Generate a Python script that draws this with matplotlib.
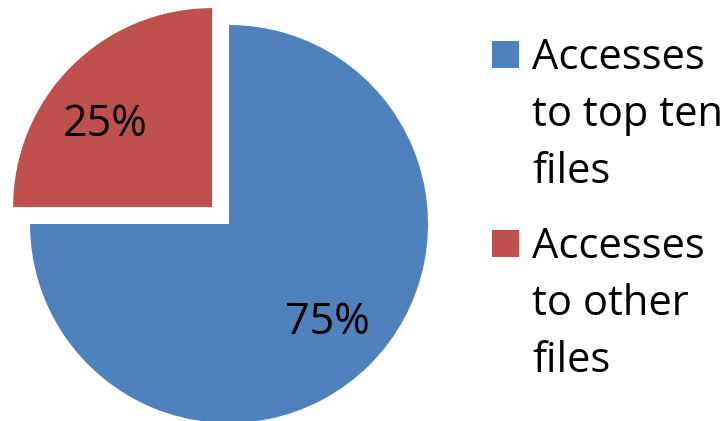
import numpy as np
import matplotlib.pyplot as plt
from matplotlib.patches import Rectangle

# DATA
labels = ['Accesses\nto top ten\nfiles', 'Accesses\nto other\nfiles']
shares = [75, 25]
colors = ['#4F81BD', '#C0504D']
explode = [0, 0.12]

FONT = 'Open Sans'
W, H = 724, 421

fig = plt.figure(figsize=(W / 100, H / 100), dpi=100)

# pie axes placed in pixels: centre (229, 197), radius 199 px
R = 199
LIM = 1.3
half = R * LIM
ax = fig.add_axes([(229 - half) / W, (197 - half) / H, 2 * half / W, 2 * half / H])

wedges, texts, autotexts = ax.pie(shares, colors=colors, explode=explode,
                                  startangle=90, counterclock=False,
                                  autopct='%1.0f%%', pctdistance=0.7,
                                  wedgeprops=dict(linewidth=0))
for t in autotexts:
    t.set_fontfamily(FONT)
    t.set_fontsize(31)
    t.set_color('black')

# small label offset for the exploded slice (sits a bit lower in the original)
cx, cy = wedges[1].center
ang = np.deg2rad(141)
autotexts[1].set_position((cx + 0.69 * np.cos(ang), cy + 0.66 * np.sin(ang)))

ax.set_xlim(-LIM, LIM)
ax.set_ylim(-LIM, LIM)
ax.axis('off')

# ========== [ legend drawn by hand ] ============================
box_x, box_size = 492, 27
box_tops = [41, 230]
line_gap = 58
for lab, col, top in zip(labels, colors, box_tops):
    fig.patches.append(Rectangle((box_x / W, (H - top - box_size) / H),
                                 box_size / W, box_size / H,
                                 transform=fig.transFigure, color=col,
                                 linewidth=0))
    # va='baseline' pins the last line, so drop down two lines from the first
    n_lines = lab.count('\n')
    y_last = top + 26 + n_lines * line_gap
    fig.text(532 / W, (H - y_last) / H, lab, fontfamily=FONT,
             fontsize=30, va='baseline', ha='left', linespacing=1.47)

plt.savefig('out.png', dpi=100)
